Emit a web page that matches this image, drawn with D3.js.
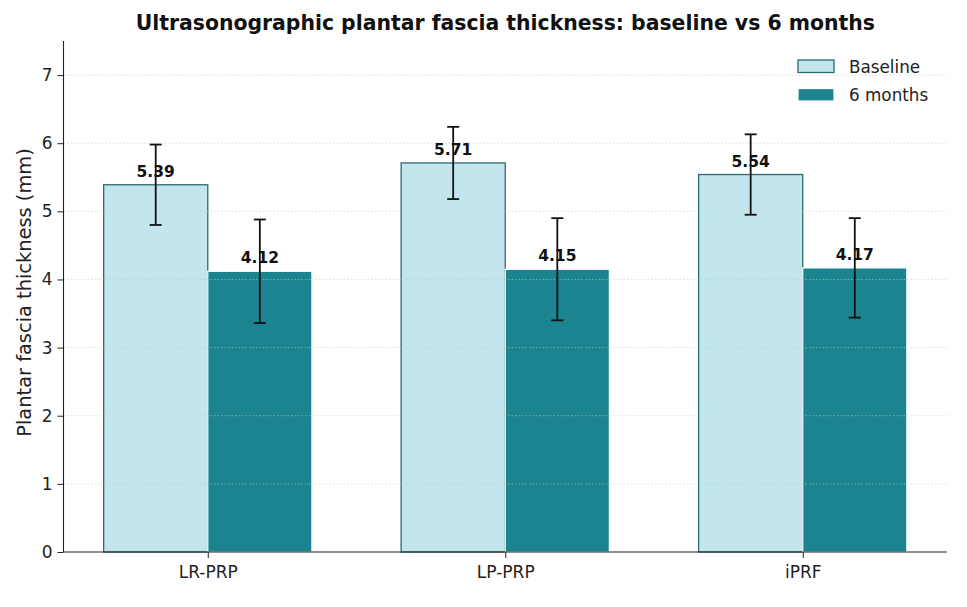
<!DOCTYPE html>
<html>
<head>
<meta charset="utf-8">
<script src="https://cdn.jsdelivr.net/npm/d3@7"></script>
<style>
  body { margin: 0; background: #fff; }
  svg { display: block; font-family: "DejaVu Sans", sans-serif; }
</style>
</head>
<body>
<svg id="chart" width="967" height="607"></svg>
<script>
const categories = ["LR-PRP", "LP-PRP", "iPRF"];
const seriesNames = ["Baseline", "6 months"];
const baselineMean = [5.39, 5.71, 5.54];
const baselineSD = [0.59, 0.53, 0.59];
const sixMonthMean = [4.12, 4.15, 4.17];
const sixMonthSD = [0.76, 0.75, 0.73];
const yTicks = [0, 1, 2, 3, 4, 5, 6, 7];
const titleText = "Ultrasonographic plantar fascia thickness: baseline vs 6 months";
const yLabelText = "Plantar fascia thickness (mm)";

(function () {
const svg = d3.select("#chart");
const pL = 63.5, pR = 947, pT = 41, pB = 552;
const barW = 0.35;

const x = d3.scaleLinear().domain([-0.485, 2.485]).range([pL, pR]);
const y = d3.scaleLinear().domain([0, 7.5]).range([pB, pT]);

const series = [
  { name: seriesNames[0], mean: baselineMean, sd: baselineSD, offset: -barW / 2, fill: "#c3e6ee", stroke: "#2e6a70", sw: 1.3 },
  { name: seriesNames[1], mean: sixMonthMean, sd: sixMonthSD, offset: barW / 2, fill: "#1b8490", stroke: "#ffffff", sw: 1.2 }
];

// bars
series.forEach(s => {
  svg.append("g").selectAll("rect").data(categories).join("rect")
    .attr("x", (d, i) => x(i + s.offset - barW / 2))
    .attr("width", x(barW) - x(0))
    .attr("y", (d, i) => y(s.mean[i]))
    .attr("height", (d, i) => y(0) - y(s.mean[i]))
    .attr("fill", s.fill)
    .attr("stroke", s.stroke)
    .attr("stroke-width", s.sw);
});

// grid (above bars, like matplotlib default)
svg.append("g").selectAll("line").data(yTicks.filter(t => t > 0)).join("line")
  .attr("x1", pL).attr("x2", pR)
  .attr("y1", d => y(d)).attr("y2", d => y(d))
  .attr("stroke", "#c8c8c8").attr("stroke-opacity", 0.6)
  .attr("stroke-width", 1).attr("stroke-dasharray", "1.5,2");

// value labels
series.forEach(s => {
  svg.append("g").selectAll("text").data(categories).join("text")
    .attr("x", (d, i) => x(i + s.offset))
    .attr("y", (d, i) => y(s.mean[i] + 0.1) - 1)
    .attr("text-anchor", "middle")
    .attr("font-size", 15.5).attr("font-weight", "bold").attr("fill", "#111")
    .text((d, i) => s.mean[i].toFixed(2));
});

// error bars
series.forEach(s => {
  const g = svg.append("g").attr("stroke", "#111").attr("stroke-width", 1.8);
  categories.forEach((c, i) => {
    const cx = x(i + s.offset);
    const y1 = y(s.mean[i] + s.sd[i]), y2 = y(s.mean[i] - s.sd[i]);
    g.append("line").attr("x1", cx).attr("x2", cx).attr("y1", y1).attr("y2", y2);
    g.append("line").attr("x1", cx - 6).attr("x2", cx + 6).attr("y1", y1).attr("y2", y1);
    g.append("line").attr("x1", cx - 6).attr("x2", cx + 6).attr("y1", y2).attr("y2", y2);
  });
});

// axes
const yAxis = d3.axisLeft(y).tickValues(yTicks).tickSize(6).tickPadding(5).tickFormat(d3.format("d"));
const yg = svg.append("g").attr("transform", `translate(${pL},0)`).call(yAxis);
yg.select(".domain").attr("d", `M0,${pT}V${pB}`).attr("stroke", "#222").attr("stroke-width", 1.1);
yg.selectAll(".tick line").attr("stroke", "#222");
yg.selectAll(".tick text").attr("font-size", 17).attr("fill", "#222").attr("font-family", "DejaVu Sans");

const xAxis = d3.axisBottom(x).tickValues(d3.range(categories.length)).tickSize(6).tickPadding(8)
  .tickFormat(i => categories[i]);
const xg = svg.append("g").attr("transform", `translate(0,${pB})`).call(xAxis);
xg.select(".domain").attr("d", `M${pL},0H${pR}`).attr("stroke", "#222").attr("stroke-width", 1.1);
xg.selectAll(".tick line").attr("stroke", "#222");
xg.selectAll(".tick text").attr("font-size", 17).attr("fill", "#222").attr("font-family", "DejaVu Sans");

// title
svg.append("text").attr("x", (pL + pR) / 2).attr("y", 30)
  .attr("text-anchor", "middle").attr("font-size", 20.4).attr("font-weight", "bold").attr("fill", "#111")
  .text(titleText);

// y label
svg.append("text")
  .attr("transform", `translate(31,292.5) rotate(-90)`)
  .attr("text-anchor", "middle").attr("font-size", 19.4).attr("fill", "#222")
  .text(yLabelText);

// legend
const lg = svg.append("g").attr("transform", "translate(798,60)");
series.forEach((s, i) => {
  const row = lg.append("g").attr("transform", `translate(0,${i * 28.5})`);
  row.append("rect").attr("x", 0).attr("y", 0).attr("width", 36).attr("height", 12.5)
    .attr("fill", s.fill).attr("stroke", s.stroke).attr("stroke-width", s.sw);
  row.append("text").attr("x", 51).attr("y", 12.5).attr("font-size", 16.8).attr("fill", "#222").text(s.name);
});
})();
</script>
</body>
</html>
